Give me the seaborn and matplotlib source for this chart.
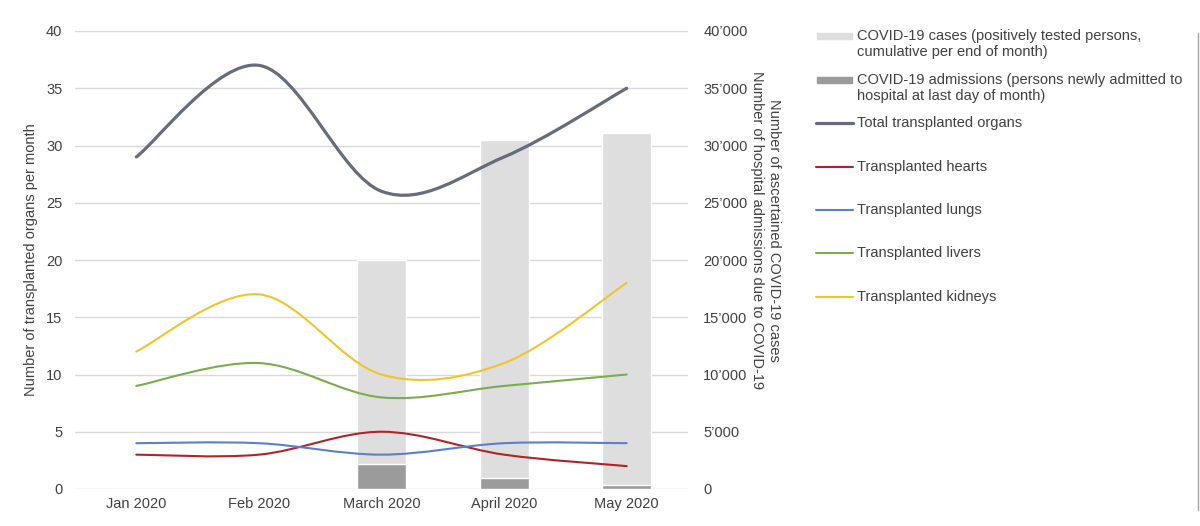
import numpy as np
import matplotlib
matplotlib.use("Agg")
import matplotlib.pyplot as plt
import seaborn as sns
from matplotlib.path import Path
from matplotlib.patches import PathPatch, Rectangle
from matplotlib.lines import Line2D
from matplotlib.ticker import FuncFormatter, MultipleLocator

months = ["Jan 2020", "Feb 2020", "March 2020", "April 2020", "May 2020"]
total_organs = [29, 37, 26, 29, 35]
hearts = [3, 3, 5, 3, 2]
lungs = [4, 4, 3, 4, 4]
livers = [9, 11, 8, 9, 10]
kidneys = [12, 17, 10, 11, 18]
covid_cases = [0, 30, 20000, 30500, 31100]
covid_admissions = [0, 0, 2200, 950, 330]

series = [
    ("Total transplanted organs", total_organs, "#656c7c", 2.3),
    ("Transplanted hearts", hearts, "#b0232a", 1.5),
    ("Transplanted lungs", lungs, "#5b7fcf", 1.5),
    ("Transplanted livers", livers, "#7aad4c", 1.5),
    ("Transplanted kidneys", kidneys, "#f0c52c", 1.5),
]
case_color = "#dedede"
adm_color = "#9b9b9b"
grid_color = "#d9d9d9"
text_color = "#404040"

sns.set_theme(style="white")
plt.rcParams["font.family"] = ["Liberation Sans", "DejaVu Sans"]
FS = 10.5


def smooth_path(values):
    # excel-style smoothed line: cubic bezier through every data point
    pts = np.column_stack([np.arange(len(values)), values]).astype(float)
    n = len(pts)
    verts = [pts[0]]
    codes = [Path.MOVETO]
    for i in range(n - 1):
        p0 = pts[max(i - 1, 0)]
        p1 = pts[i]
        p2 = pts[i + 1]
        p3 = pts[min(i + 2, n - 1)]
        verts += [p1 + (p2 - p0) / 6, p2 - (p3 - p1) / 6, p2]
        codes += [Path.CURVE4] * 3
    return Path(verts, codes)


fig = plt.figure(figsize=(12, 5.26), dpi=100)
ax = fig.add_axes([75 / 1200, 1 - 489 / 526, 613 / 1200, 458 / 526])
ax2 = ax.twinx()
ax.set_zorder(2)
ax2.set_zorder(1)
ax.patch.set_visible(False)

# bars on the secondary axis
sns.barplot(x=months, y=covid_cases, color=case_color, saturation=1, width=0.4, ax=ax2, zorder=2)
sns.barplot(x=months, y=covid_admissions, color=adm_color, saturation=1, width=0.4, ax=ax2, zorder=3)
ax2.set_ylim(0, 40000)
ax2.yaxis.set_major_locator(MultipleLocator(5000))
ax2.yaxis.set_major_formatter(FuncFormatter(lambda v, p: "0" if v == 0 else f"{int(v):,}".replace(",", "\u2019")))
ax2.grid(axis="y", color=grid_color, lw=1, zorder=0)
ax2.grid(axis="x", visible=False)
ax2.set_axisbelow(True)
ax2.set_xlabel("")
ax2.set_ylabel("")

# smoothed lines on the primary axis
for name, vals, col, lw in series:
    ax.add_patch(PathPatch(smooth_path(vals), facecolor="none", edgecolor=col, lw=lw,
                           capstyle="round", joinstyle="round", zorder=3))

ax.set_xlim(-0.5, 4.5)
ax.set_ylim(0, 40)
ax.yaxis.set_major_locator(MultipleLocator(5))
ax.set_xticks(range(len(months)))
ax.set_xticklabels(months)
ax.grid(False)

for a in (ax, ax2):
    for s in a.spines.values():
        s.set_visible(False)
ax.tick_params(axis="y", length=0, pad=9, labelsize=FS, labelcolor=text_color)
ax.tick_params(axis="x", length=0, pad=6, labelsize=FS, labelcolor=text_color)
ax2.tick_params(axis="y", length=0, pad=11, labelsize=FS, labelcolor=text_color)

ax.set_ylabel("Number of transplanted organs per month", fontsize=FS, color=text_color)
ax.yaxis.set_label_coords((38 - 75) / 613, 0.5)
ax2.text(1.1264, 0.565, "Number of ascertained COVID-19 cases\nNumber of hospital admissions due to COVID-19",
         transform=ax2.transAxes, rotation=270, ha="center", va="center", multialignment="center",
         fontsize=FS, color=text_color, linespacing=1.25)


# legend drawn by hand in pixel positions
def fx(px):
    return px / 1200


def fy(py):
    return 1 - py / 526


fig.add_artist(Rectangle((fx(817), fy(39)), fx(35), 6 / 526, color=case_color, transform=fig.transFigure))
fig.add_artist(Rectangle((fx(817), fy(83)), fx(35), 6 / 526, color=adm_color, transform=fig.transFigure))
fig.text(fx(857), fy(44), "COVID-19 cases (positively tested persons,\ncumulative per end of month)",
         va="center", ha="left", fontsize=FS, color=text_color, linespacing=1.15)
fig.text(fx(857), fy(88), "COVID-19 admissions (persons newly admitted to\nhospital at last day of month)",
         va="center", ha="left", fontsize=FS, color=text_color, linespacing=1.15)
for (name, vals, col, lw), py in zip(series, [123, 167, 210, 253, 297]):
    fig.add_artist(Line2D([fx(816), fx(853)], [fy(py), fy(py)], color=col, lw=lw,
                          solid_capstyle="round", transform=fig.transFigure))
    fig.text(fx(857), fy(py), name, va="center", ha="left", fontsize=FS, color=text_color)

fig.add_artist(Line2D([fx(1198), fx(1198)], [fy(33), fy(510)], color="#a6a6a6", lw=1,
                      transform=fig.transFigure))

fig.savefig("out.png", dpi=100, facecolor="white")
